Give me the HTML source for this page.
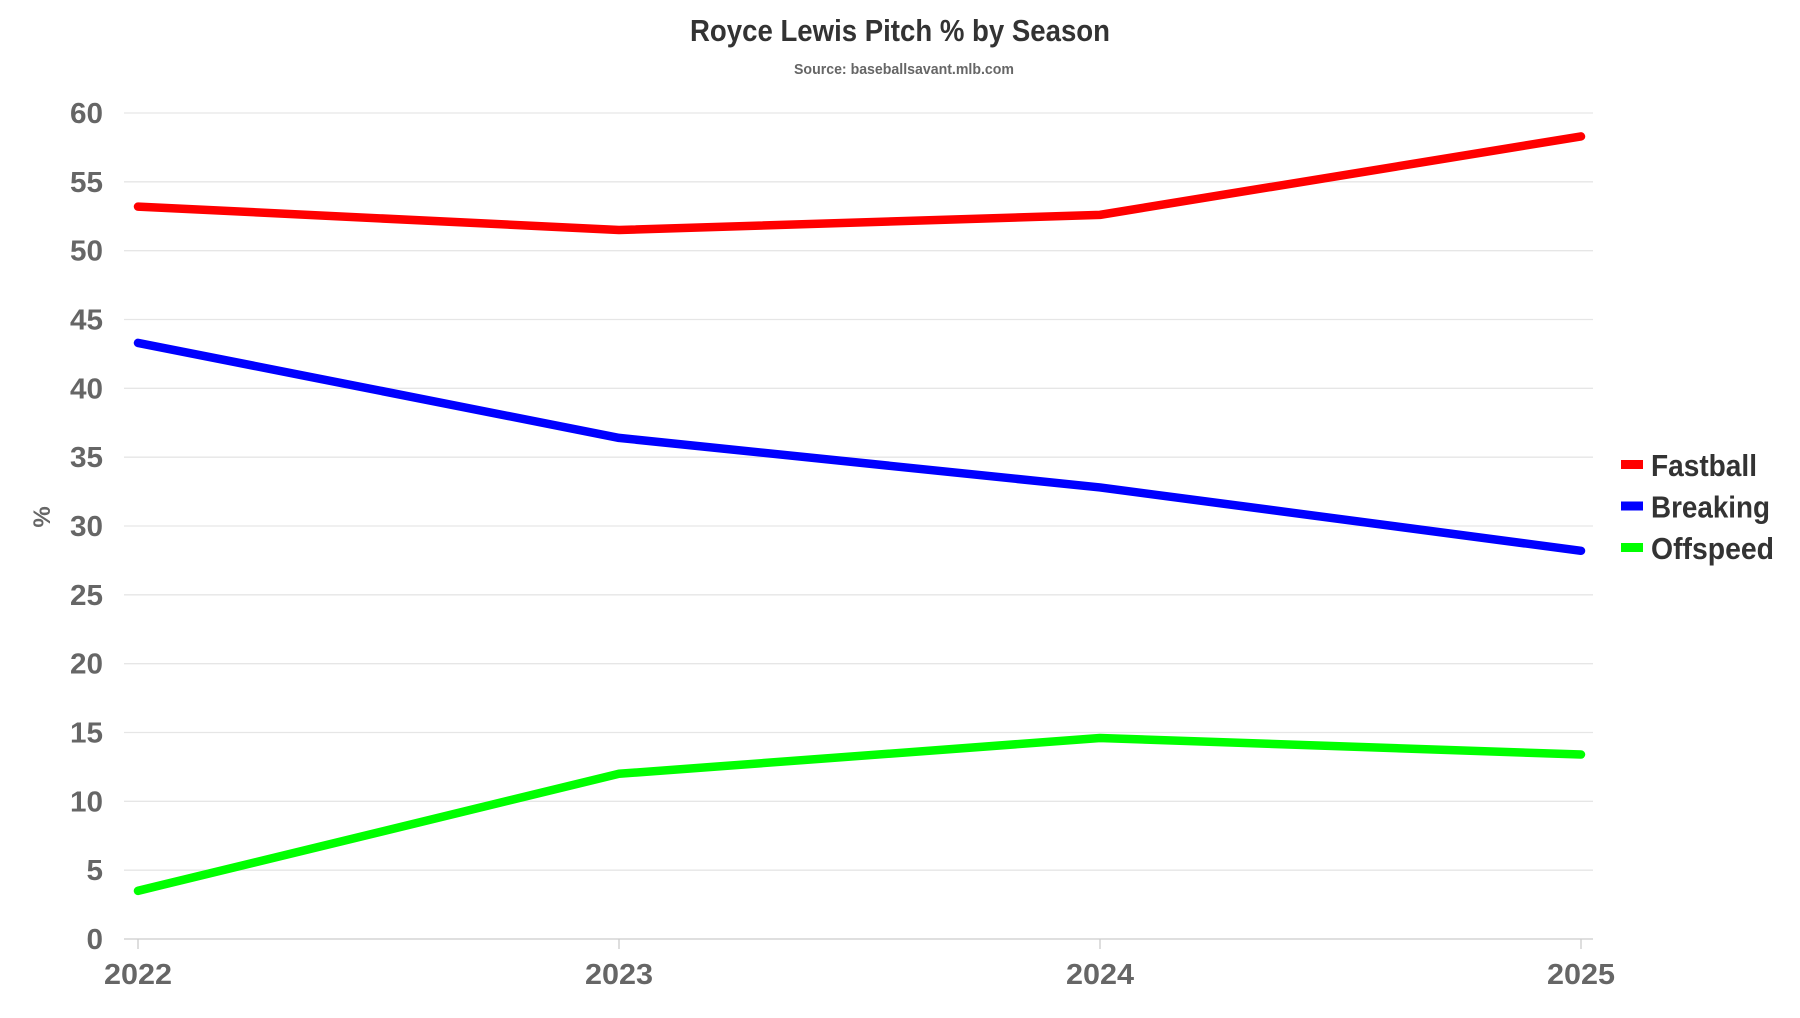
<!DOCTYPE html>
<html><head><meta charset="utf-8"><style>
body{margin:0;background:#fff;}
svg text{font-family:"Liberation Sans Narrow","Liberation Sans",sans-serif;font-weight:bold;}
</style></head><body>
<svg id="chart" width="1800" height="1013" viewBox="0 0 1800 1013" xmlns="http://www.w3.org/2000/svg">
<text x="900" y="41" text-anchor="middle" font-size="31" fill="#333" textLength="420" lengthAdjust="spacingAndGlyphs">Royce Lewis Pitch % by Season</text>
<text x="904" y="74" text-anchor="middle" font-size="15" fill="#666" textLength="220" lengthAdjust="spacingAndGlyphs">Source: baseballsavant.mlb.com</text>
<text transform="translate(50,517) rotate(-90)" text-anchor="middle" font-size="24" fill="#666">%</text>
<g id="grid"></g><g id="lines"></g><g id="legend"></g>
</svg>
<script>
const years=["2022","2023","2024","2025"];
const yTicks=[0,5,10,15,20,25,30,35,40,45,50,55,60];
const fastball=[53.2,51.5,52.6,58.3];
const breaking=[43.3,36.4,32.8,28.2];
const offspeed=[3.5,12.0,14.6,13.4];
const seriesNames=["Fastball","Breaking","Offspeed"];
const legendWidths=[106,119,123];
const NS="http://www.w3.org/2000/svg";
const x=i=>138+i*(1581-138)/(years.length-1);
const y=v=>939-v*(939-113)/60;
const grid=document.getElementById('grid');
function mk(t,a,p){const e=document.createElementNS(NS,t);for(const k in a)e.setAttribute(k,a[k]);p.appendChild(e);return e;}
yTicks.forEach(v=>{
 const l=mk('line',{x1:124,x2:1593,y1:y(v),y2:y(v),stroke:v===0?'#ccc':'#e6e6e6','stroke-width':1.3},grid);
 
 
 const t=mk('text',{x:103,y:y(v)+10,'text-anchor':'end','font-size':29,fill:'#666',textLength:String(v).length*16.5,lengthAdjust:'spacingAndGlyphs'},grid);
 t.textContent=v;
 
 
});
years.forEach((yr,i)=>{
 const tk=mk('line',{x1:x(i),x2:x(i),y1:939,y2:949,stroke:'#ccc','stroke-width':1.3},grid);
 
 
 const t=mk('text',{x:x(i),y:984,'text-anchor':'middle','font-size':29,fill:'#666',textLength:68,lengthAdjust:'spacingAndGlyphs'},grid);
 t.textContent=yr;
 
 
});
const data=[fastball,breaking,offspeed];
const colors=["#ff0000","#0000ff","#00ff00"];
const lines=document.getElementById('lines');
data.forEach((s,k)=>{
 const p=mk('polyline',{points:s.map((v,i)=>x(i)+','+y(v)).join(' '),fill:'none',stroke:colors[k],'stroke-width':8.5,'stroke-linejoin':'round','stroke-linecap':'round'},lines);
 
 
});
const lg=document.getElementById('legend');
seriesNames.forEach((n,k)=>{
 const yy=465+k*41.5;
 const r=mk('rect',{x:1621,y:yy-5,width:22,height:9,fill:colors[k]},lg);
 
 
 const t=mk('text',{x:1651,y:yy+11,'font-size':31,fill:'#333',textLength:legendWidths[k],lengthAdjust:'spacingAndGlyphs'},lg);
 t.textContent=n;
 
 
});
</script>
</body></html>
